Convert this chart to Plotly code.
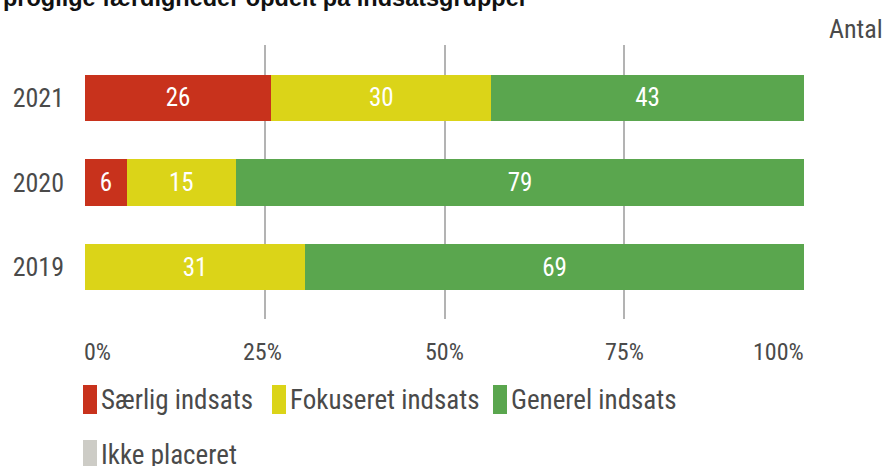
import plotly.graph_objects as go

years = ["2019", "2020", "2021"]
series_names = ["Særlig indsats", "Fokuseret indsats", "Generel indsats", "Ikke placeret"]
# shares (percent)
saerlig = [0, 5.8, 25.9]
fokuseret = [30.6, 15.2, 30.6]
generel = [69.4, 79.0, 43.5]
ikke = [0, 0, 0]
# printed labels
saerlig_lbl = ["", "6", "26"]
fokuseret_lbl = ["31", "15", "30"]
generel_lbl = ["69", "79", "43"]
ikke_lbl = ["", "", ""]
antal = [13, 33, 23]
x_ticks = [0, 25, 50, 75, 100]
x_tick_labels = ["0%", "25%", "50%", "75%", "100%"]
title_text = "proglige færdigheder opdelt på indsatsgrupper"
antal_title = "Antal"

colors = ["#C8321C", "#DBD418", "#5AA64E", "#CDCCC6"]
FONT = "Liberation Sans Narrow, Roboto Condensed, DejaVu Sans Condensed, sans-serif"
TXT = "#4a4a4a"

W, H = 886, 466
L, R, T, B = 85, 82, 45, 147
pw, ph = W - L - R, H - T - B

def px(X):
    return (X - L) / pw

def py(Y):
    return (H - B - Y) / ph

fig = go.Figure()
for name, vals, lbls, col in zip(series_names, [saerlig, fokuseret, generel, ikke],
                                 [saerlig_lbl, fokuseret_lbl, generel_lbl, ikke_lbl], colors):
    fig.add_trace(go.Bar(
        y=years, x=vals, name=name, orientation="h",
        marker=dict(color=col, line=dict(width=0)),
        text=lbls,
        textposition="inside", insidetextanchor="middle",
        textfont=dict(family=FONT, size=25, color="white"),
        width=0.545, showlegend=False, hoverinfo="y+name",
    ))

annotations = []
annotations.append(dict(
    text="<b>" + title_text + "</b>", xref="paper", yref="paper",
    x=px(1), y=py(-2), xanchor="left", yanchor="middle", showarrow=False,
    font=dict(family="Liberation Sans, Arial, sans-serif", size=23.5, color="#111111"),
))
anchors = ["left", "center", "center", "center", "right"]
offsets = [-3, -2, 0, 0, 2]
for v, lab, a, o in zip(x_ticks, x_tick_labels, anchors, offsets):
    annotations.append(dict(
        text=lab, xref="x", yref="paper", x=v, xshift=o, y=py(352),
        xanchor=a, yanchor="middle", showarrow=False,
        font=dict(family=FONT, size=24, color=TXT),
    ))
annotations.append(dict(
    text=antal_title, xref="paper", yref="paper", x=px(856), y=py(29),
    xanchor="center", yanchor="middle", showarrow=False,
    font=dict(family=FONT, size=26, color=TXT),
))
for yv, n in zip(years, antal):
    annotations.append(dict(
        text=str(n), xref="paper", yref="y", x=px(852), y=yv,
        xanchor="center", yanchor="middle", showarrow=False,
        font=dict(family=FONT, size=26, color=TXT),
    ))

shapes = []
leg_pos = [(83, 385, 414), (272, 385, 414), (493, 385, 414), (83, 440, 469)]
for (lx, y0, y1), name, col in zip(leg_pos, series_names, colors):
    shapes.append(dict(
        type="rect", xref="paper", yref="paper",
        x0=px(lx), x1=px(lx + 14), y0=py(y1), y1=py(y0),
        fillcolor=col, line=dict(width=0), layer="above",
    ))
    annotations.append(dict(
        text=name, xref="paper", yref="paper", x=px(lx + 16), y=py((y0 + y1) / 2),
        xanchor="left", yanchor="middle", showarrow=False,
        font=dict(family=FONT, size=27, color=TXT),
    ))

fig.update_layout(
    width=W, height=H, barmode="stack",
    margin=dict(l=L, r=R, t=T, b=B, autoexpand=False),
    paper_bgcolor="white", plot_bgcolor="white",
    annotations=annotations, shapes=shapes,
    xaxis=dict(
        range=[0, 100], tickvals=x_ticks, showticklabels=False,
        showgrid=True, gridcolor="#b3b3b3", gridwidth=2,
        zeroline=False, showline=False, fixedrange=True,
    ),
    yaxis=dict(
        categoryorder="array", categoryarray=years, range=[-0.615, 2.627],
        showgrid=False, zeroline=False, showline=False, ticks="",
        ticklabelstandoff=20,
        tickfont=dict(family=FONT, size=26, color=TXT),
    ),
    bargap=0.45,
)

fig.write_html(
    "out.html",
    config={"displayModeBar": False},
    post_script="document.body.style.margin='0';document.body.style.overflow='hidden';",
)
